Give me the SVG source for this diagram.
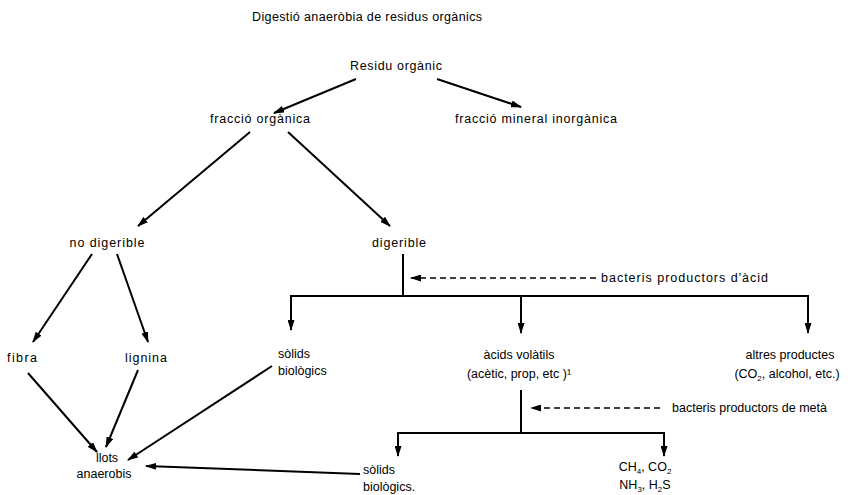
<svg xmlns="http://www.w3.org/2000/svg" width="857" height="495" viewBox="0 0 857 495">
<style>
text{font-family:"Liberation Sans",Arial,sans-serif;font-size:12.5px;fill:#000}
.m{text-anchor:middle}
.c{stroke:#000;stroke-width:2;fill:none}
.d{stroke:#000;stroke-width:1.5;fill:none;stroke-dasharray:6 4}
.s{font-size:8px}
</style>
<defs>
<marker id="a" markerWidth="11" markerHeight="7" refX="10" refY="3.5" orient="auto" markerUnits="userSpaceOnUse"><path d="M0,0 L11,3.5 L0,7 z" fill="#000"/></marker>
</defs>
<rect width="857" height="495" fill="#fff"/>
<text class="m" x="367" y="21" textLength="230">Digestió anaeròbia de residus orgànics</text>
<g id="connectors">
<line class="c" x1="356" y1="79" x2="274" y2="113" marker-end="url(#a)"/>
<line class="c" x1="437" y1="79" x2="521" y2="107" marker-end="url(#a)"/>
<line class="c" x1="250" y1="132" x2="138" y2="226" marker-end="url(#a)"/>
<line class="c" x1="288" y1="132" x2="390" y2="226" marker-end="url(#a)"/>
<line class="c" x1="92" y1="254" x2="33" y2="342" marker-end="url(#a)"/>
<line class="c" x1="117" y1="254" x2="148" y2="342" marker-end="url(#a)"/>
<line class="c" x1="28" y1="373" x2="97" y2="452" marker-end="url(#a)"/>
<line class="c" x1="138" y1="370" x2="106" y2="447" marker-end="url(#a)"/>
<line class="c" x1="272" y1="366" x2="128" y2="460" marker-end="url(#a)"/>
<line class="c" x1="360" y1="474" x2="146" y2="466" marker-end="url(#a)"/>
<line class="c" x1="403" y1="254" x2="403" y2="297"/>
<polyline class="c" points="291,300 291,296 808,296 808,300"/>
<line class="c" x1="291" y1="296" x2="291" y2="330" marker-end="url(#a)"/>
<line class="c" x1="521" y1="296" x2="521" y2="333" marker-end="url(#a)"/>
<line class="c" x1="808" y1="296" x2="808" y2="333" marker-end="url(#a)"/>
<line class="d" x1="596" y1="278" x2="411" y2="278" marker-end="url(#a)"/>
<line class="c" x1="521" y1="390" x2="521" y2="434"/>
<line class="d" x1="660" y1="408" x2="531" y2="408" marker-end="url(#a)"/>
<polyline class="c" points="398,433 664,433"/>
<line class="c" x1="398" y1="432" x2="398" y2="456" marker-end="url(#a)"/>
<line class="c" x1="664" y1="432" x2="664" y2="456" marker-end="url(#a)"/>
</g>
<g id="residu"><text class="m" x="396" y="70" textLength="92">Residu orgànic</text></g>
<g id="fraccio-organica"><text class="m" x="260" y="123" textLength="100">fracció orgànica</text></g>
<g id="fraccio-mineral"><text class="m" x="536" y="123" textLength="162">fracció mineral inorgànica</text></g>
<g id="no-digerible"><text class="m" x="107" y="247" textLength="75">no digerible</text></g>
<g id="digerible"><text class="m" x="399" y="247" textLength="54">digerible</text></g>
<g id="fibra"><text class="m" x="22" y="362" textLength="30">fibra</text></g>
<g id="lignina"><text class="m" x="146" y="362" textLength="42">lignina</text></g>
<g id="solids1"><text x="278" y="358">sòlids</text><text x="278" y="375">biològics</text></g>
<g id="llots"><text class="m" x="107" y="462">llots</text><text class="m" x="104" y="478">anaerobis</text></g>
<g id="bact-acid"><text x="601" y="282" textLength="167">bacteris productors d'àcid</text></g>
<g id="acids"><text class="m" x="519" y="359">àcids volàtils</text><text class="m" x="519" y="378">(acètic, prop, etc )¹</text></g>
<g id="altres"><text class="m" x="790" y="359">altres productes</text><text class="m" x="787" y="378">(CO<tspan class="s" dy="3">2</tspan><tspan dy="-3">, alcohol, etc.)</tspan></text></g>
<g id="bact-meta"><text x="672" y="412" textLength="155">bacteris productors de metà</text></g>
<g id="solids2"><text x="363" y="474">sòlids</text><text x="363" y="491">biològics.</text></g>
<g id="gasos"><text class="m" x="645" y="471">CH<tspan class="s" dy="3">4</tspan><tspan dy="-3">, CO</tspan><tspan class="s" dy="3">2</tspan></text><text class="m" x="645" y="489">NH<tspan class="s" dy="3">3</tspan><tspan dy="-3">, H</tspan><tspan class="s" dy="3">2</tspan><tspan dy="-3">S</tspan></text></g>
</svg>
